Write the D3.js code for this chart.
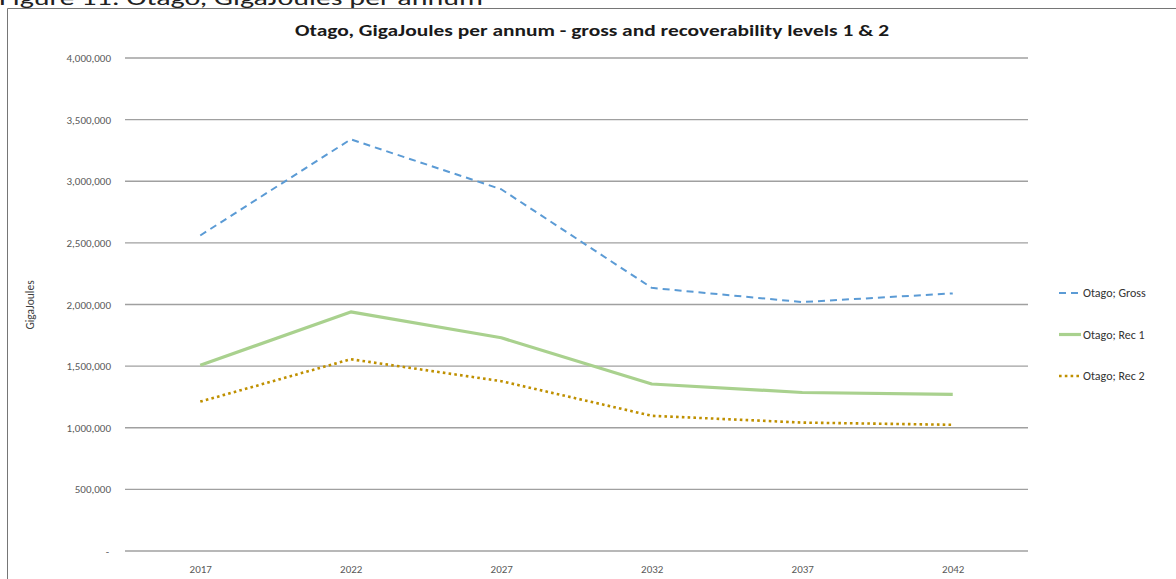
<!DOCTYPE html>
<html>
<head>
<meta charset="utf-8">
<script src="https://cdn.jsdelivr.net/npm/d3@7"></script>
<style>
  html, body { margin: 0; padding: 0; background: #fff; overflow: hidden; }
  svg { display: block; }
</style>
</head>
<body>
<svg id="chart" width="1176" height="579"></svg>
<script>
// Otago energy outlook, GigaJoules per annum
const years = ["2017", "2022", "2027", "2032", "2037", "2042"];
const grossValues = [2560000, 3340000, 2935000, 2135000, 2020000, 2090000];
const rec1Values = [1507000, 1940000, 1730000, 1355000, 1286000, 1270000];
const rec2Values = [1212000, 1556000, 1378000, 1097000, 1042000, 1024000];
const seriesNames = ["Otago; Gross", "Otago; Rec 1", "Otago; Rec 2"];
const yTickValues = [0, 500000, 1000000, 1500000, 2000000, 2500000, 3000000, 3500000, 4000000];

const series = [
  { name: seriesNames[0], values: grossValues, color: "#5b9bd5", width: 2, dash: "7,5", cap: "butt" },
  { name: seriesNames[1], values: rec1Values, color: "#a9d18e", width: 3.2, dash: null, cap: "butt" },
  { name: seriesNames[2], values: rec2Values, color: "#bf9000", width: 2.6, dash: "2.6,3.2", cap: "butt" }
];

const svg = d3.select("#chart");
const font = "Carlito, 'Open Sans', 'Liberation Sans', sans-serif";

// caption above the chart frame (its top runs off the page)
svg.append("text")
  .attr("x", -1).attr("y", 5)
  .attr("font-family", font).attr("font-size", 21).attr("fill", "#222")
  .attr("textLength", 484).attr("lengthAdjust", "spacingAndGlyphs")
  .text("Figure 11: Otago, GigaJoules per annum");

// white band so only the caption's lower edge reads above the frame
svg.append("rect").attr("x", 0).attr("y", 8.5).attr("width", 1176).attr("height", 571).attr("fill", "#fff");

// chart frame
svg.append("path")
  .attr("d", "M7.5,579 V8.5 H1176")
  .attr("fill", "none").attr("stroke", "#767676").attr("stroke-width", 1);

const plot = { left: 125, right: 1028, top: 58, bottom: 551 };

const x = d3.scalePoint().domain(years).range([plot.left, plot.right]).padding(0.5);
const y = d3.scaleLinear().domain([0, 4000000]).range([plot.bottom, plot.top]);

// gridlines
svg.append("g").selectAll("line").data(yTickValues).join("line")
  .attr("x1", plot.left).attr("x2", plot.right)
  .attr("y1", d => y(d)).attr("y2", d => y(d))
  .attr("stroke", "#a0a0a0").attr("stroke-width", 1.3);

// y axis labels
const yAxis = d3.axisLeft(y).tickValues(yTickValues).tickSize(0).tickPadding(0)
  .tickFormat(d => d === 0 ? "-" : d3.format(",")(d));
const yg = svg.append("g").attr("transform", `translate(${plot.left - 14},0)`).call(yAxis);
yg.select(".domain").remove();
yg.selectAll("text").attr("font-family", font).attr("font-size", 11).attr("fill", "#595959")
  .attr("dx", d => d === 0 ? -2 : 0);

// x axis labels
const xAxis = d3.axisBottom(x).tickSize(0).tickPadding(0);
const xg = svg.append("g").attr("transform", `translate(0,${plot.bottom + 14})`).call(xAxis);
xg.select(".domain").remove();
xg.selectAll("text").attr("font-family", font).attr("font-size", 11).attr("fill", "#595959");

// axis title
svg.append("text")
  .attr("transform", "translate(34,305) rotate(-90)")
  .attr("text-anchor", "middle")
  .attr("font-family", font).attr("font-size", 11.5).attr("fill", "#404040")
  .text("GigaJoules");

// chart title
svg.append("text")
  .attr("x", 592).attr("y", 36).attr("text-anchor", "middle")
  .attr("font-family", font).attr("font-size", 16).attr("font-weight", "bold").attr("fill", "#1a1a1a")
  .attr("textLength", 594).attr("lengthAdjust", "spacingAndGlyphs")
  .text("Otago, GigaJoules per annum - gross and recoverability levels 1 & 2");

// series lines
const line = d3.line().x((d, i) => x(years[i])).y(d => y(d));
svg.append("g").selectAll("path").data(series).join("path")
  .attr("d", d => line(d.values))
  .attr("fill", "none")
  .attr("stroke", d => d.color)
  .attr("stroke-width", d => d.width)
  .attr("stroke-dasharray", d => d.dash)
  .attr("stroke-linecap", d => d.cap)
  .attr("stroke-linejoin", "round");

// legend
const legend = svg.append("g").selectAll("g").data(series).join("g")
  .attr("transform", (d, i) => `translate(1059,${293 + i * 41.5})`);
legend.append("line")
  .attr("x1", 0).attr("x2", 22).attr("y1", 0).attr("y2", 0)
  .attr("stroke", d => d.color).attr("stroke-width", d => d.width)
  .attr("stroke-dasharray", d => d.dash);
legend.append("text")
  .attr("x", 24).attr("y", 0).attr("dy", "0.35em")
  .attr("font-family", font).attr("font-size", 12).attr("fill", "#333")
  .text(d => d.name);
</script>
</body>
</html>
